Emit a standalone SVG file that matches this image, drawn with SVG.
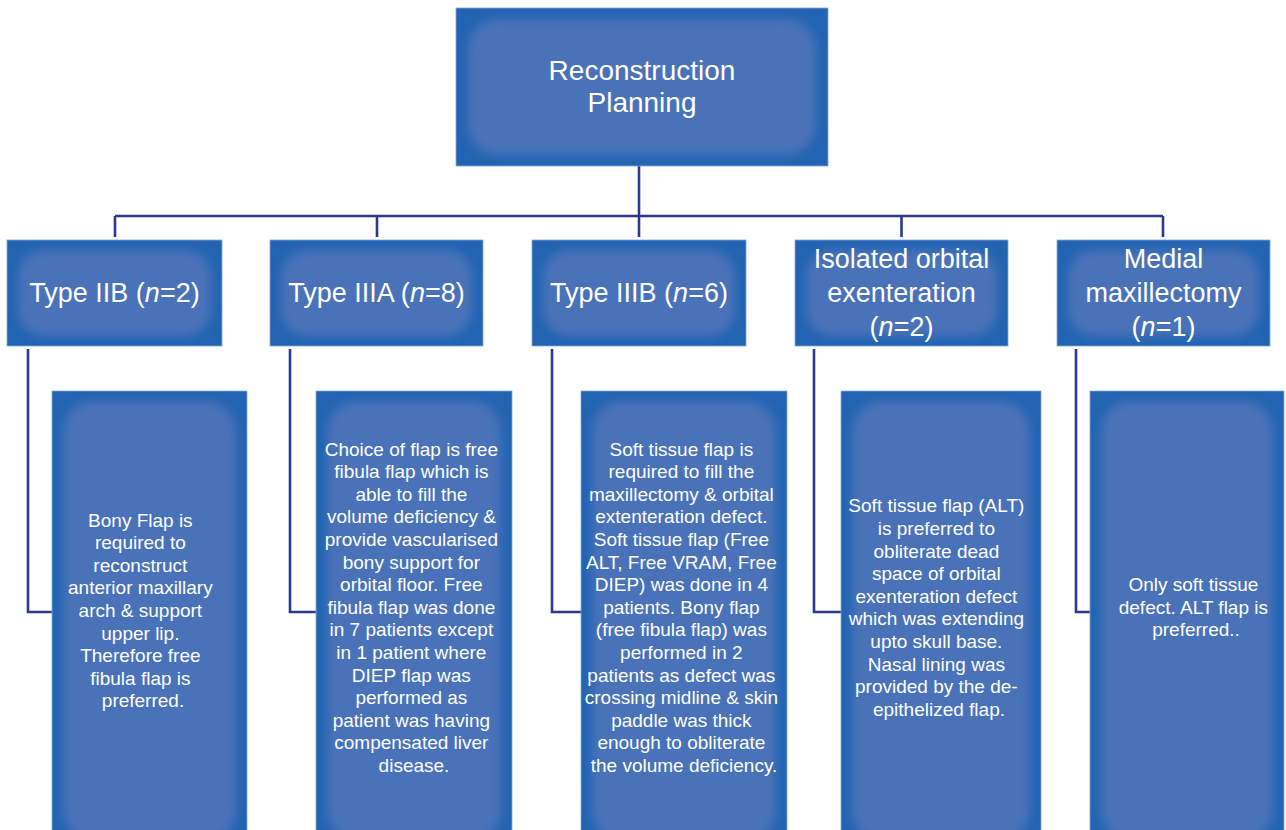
<svg xmlns="http://www.w3.org/2000/svg" width="1286" height="830" viewBox="0 0 1286 830">
<defs>
<filter id="soft" x="-20%" y="-20%" width="140%" height="140%"><feGaussianBlur stdDeviation="5"/></filter>
<style>
.edge{fill:#2264b2;stroke:#86a6da;stroke-width:0.8}
.core{fill:#4972b8;filter:url(#soft)}
.hd{font-family:"Liberation Sans",Arial,sans-serif;font-size:27px;fill:#ffffff;text-anchor:middle}
.tt{font-family:"Liberation Sans",Arial,sans-serif;font-size:28px;fill:#ffffff;text-anchor:middle}
.tx{font-family:"Liberation Sans",Arial,sans-serif;font-size:19px;fill:#ffffff;text-anchor:middle}
.ln{fill:none;stroke:#2b3990;stroke-width:2.6}
</style>
</defs>
<rect width="1286" height="830" fill="#ffffff"/>

<g id="connectors">
<path class="ln" d="M639 166 V237"/>
<path class="ln" d="M115 216 H1163"/>
<path class="ln" d="M115 216 V237 M377 216 V237 M901.5 216 V237 M1163 216 V237"/>
<path class="ln" d="M28 349 V612 H52"/>
<path class="ln" d="M290 349 V612 H316"/>
<path class="ln" d="M552 349 V612 H581"/>
<path class="ln" d="M814 349 V612 H841"/>
<path class="ln" d="M1076 349 V612 H1090"/>
</g>

<g id="root">
<rect class="edge" x="456" y="8" width="372" height="158"/>
<rect class="core" x="468" y="19" width="348" height="136" rx="30"/>
<text class="tt" x="642" y="80">Reconstruction</text>
<text class="tt" x="642" y="112">Planning</text>
</g>

<g id="h-iib">
<rect class="edge" x="7" y="240" width="215" height="106"/>
<rect class="core" x="18" y="250" width="193" height="86" rx="26"/>
<text class="hd" x="114.5" y="302">Type IIB (<tspan font-style="italic">n</tspan>=2)</text>
</g>
<g id="h-iiia">
<rect class="edge" x="270" y="240" width="213" height="106"/>
<rect class="core" x="281" y="250" width="191" height="86" rx="26"/>
<text class="hd" x="376.5" y="302">Type IIIA (<tspan font-style="italic">n</tspan>=8)</text>
</g>
<g id="h-iiib">
<rect class="edge" x="532" y="240" width="214" height="106"/>
<rect class="core" x="543" y="250" width="192" height="86" rx="26"/>
<text class="hd" x="639" y="302">Type IIIB (<tspan font-style="italic">n</tspan>=6)</text>
</g>
<g id="h-orbital">
<rect class="edge" x="795" y="240" width="213" height="106"/>
<rect class="core" x="806" y="250" width="191" height="86" rx="26"/>
<text class="hd" x="901.5" y="268">Isolated orbital</text>
<text class="hd" x="901.5" y="302">exenteration</text>
<text class="hd" x="901.5" y="336">(<tspan font-style="italic">n</tspan>=2)</text>
</g>
<g id="h-medial">
<rect class="edge" x="1057" y="240" width="213" height="106"/>
<rect class="core" x="1068" y="250" width="191" height="86" rx="26"/>
<text class="hd" x="1163.5" y="268">Medial</text>
<text class="hd" x="1163.5" y="302">maxillectomy</text>
<text class="hd" x="1163.5" y="336">(<tspan font-style="italic">n</tspan>=1)</text>
</g>

<g id="d-iib">
<rect class="edge" x="52" y="391" width="195" height="445"/>
<rect class="core" x="63" y="401" width="173" height="440" rx="30"/>
<text class="tx" y="526.5">
<tspan x="143">Bony Flap is</tspan>
<tspan x="143" dy="22.6">required to</tspan>
<tspan x="143" dy="22.6">reconstruct</tspan>
<tspan x="143" dy="22.6">anterior maxillary</tspan>
<tspan x="143" dy="22.6">arch &amp; support</tspan>
<tspan x="143" dy="22.6">upper lip.</tspan>
<tspan x="143" dy="22.6">Therefore free</tspan>
<tspan x="143" dy="22.6">fibula flap is</tspan>
<tspan x="143" dy="22.6">preferred.</tspan>
</text>
</g>

<g id="d-iiia">
<rect class="edge" x="316" y="391" width="196" height="445"/>
<rect class="core" x="327" y="401" width="174" height="440" rx="30"/>
<text class="tx" y="455.5">
<tspan x="414">Choice of flap is free</tspan>
<tspan x="414" dy="22.6">fibula flap which is</tspan>
<tspan x="414" dy="22.6">able to fill the</tspan>
<tspan x="414" dy="22.6">volume deficiency &amp;</tspan>
<tspan x="414" dy="22.6">provide vascularised</tspan>
<tspan x="414" dy="22.6">bony support for</tspan>
<tspan x="414" dy="22.6">orbital floor. Free</tspan>
<tspan x="414" dy="22.6">fibula flap was done</tspan>
<tspan x="414" dy="22.6">in 7 patients except</tspan>
<tspan x="414" dy="22.6">in 1 patient where</tspan>
<tspan x="414" dy="22.6">DIEP flap was</tspan>
<tspan x="414" dy="22.6">performed as</tspan>
<tspan x="414" dy="22.6">patient was having</tspan>
<tspan x="414" dy="22.6">compensated liver</tspan>
<tspan x="414" dy="22.6">disease.</tspan>
</text>
</g>

<g id="d-iiib">
<rect class="edge" x="581" y="391" width="206" height="445"/>
<rect class="core" x="592" y="401" width="184" height="440" rx="30"/>
<text class="tx" y="455.5">
<tspan x="684">Soft tissue flap is</tspan>
<tspan x="684" dy="22.6">required to fill the</tspan>
<tspan x="684" dy="22.6">maxillectomy &amp; orbital</tspan>
<tspan x="684" dy="22.6">extenteration defect.</tspan>
<tspan x="684" dy="22.6">Soft tissue flap (Free</tspan>
<tspan x="684" dy="22.6">ALT, Free VRAM, Free</tspan>
<tspan x="684" dy="22.6">DIEP) was done in 4</tspan>
<tspan x="684" dy="22.6">patients. Bony flap</tspan>
<tspan x="684" dy="22.6">(free fibula flap) was</tspan>
<tspan x="684" dy="22.6">performed in 2</tspan>
<tspan x="684" dy="22.6">patients as defect was</tspan>
<tspan x="684" dy="22.6">crossing midline &amp; skin</tspan>
<tspan x="684" dy="22.6">paddle was thick</tspan>
<tspan x="684" dy="22.6">enough to obliterate</tspan>
<tspan x="684" dy="22.6">the volume deficiency.</tspan>
</text>
</g>

<g id="d-orbital">
<rect class="edge" x="841" y="391" width="200" height="445"/>
<rect class="core" x="852" y="401" width="178" height="440" rx="30"/>
<text class="tx" y="512.3">
<tspan x="939">Soft tissue flap (ALT)</tspan>
<tspan x="939" dy="22.6">is preferred to</tspan>
<tspan x="939" dy="22.6">obliterate dead</tspan>
<tspan x="939" dy="22.6">space of orbital</tspan>
<tspan x="939" dy="22.6">exenteration defect</tspan>
<tspan x="939" dy="22.6">which was extending</tspan>
<tspan x="939" dy="22.6">upto skull base.</tspan>
<tspan x="939" dy="22.6">Nasal lining was</tspan>
<tspan x="939" dy="22.6">provided by the de-</tspan>
<tspan x="939" dy="22.6">epithelized flap.</tspan>
</text>
</g>

<g id="d-medial">
<rect class="edge" x="1090" y="391" width="194" height="445"/>
<rect class="core" x="1101" y="401" width="172" height="440" rx="30"/>
<text class="tx" y="591">
<tspan x="1196">Only soft tissue</tspan>
<tspan x="1196" dy="22.6">defect. ALT flap is</tspan>
<tspan x="1196" dy="22.6">preferred..</tspan>
</text>
</g>
</svg>
